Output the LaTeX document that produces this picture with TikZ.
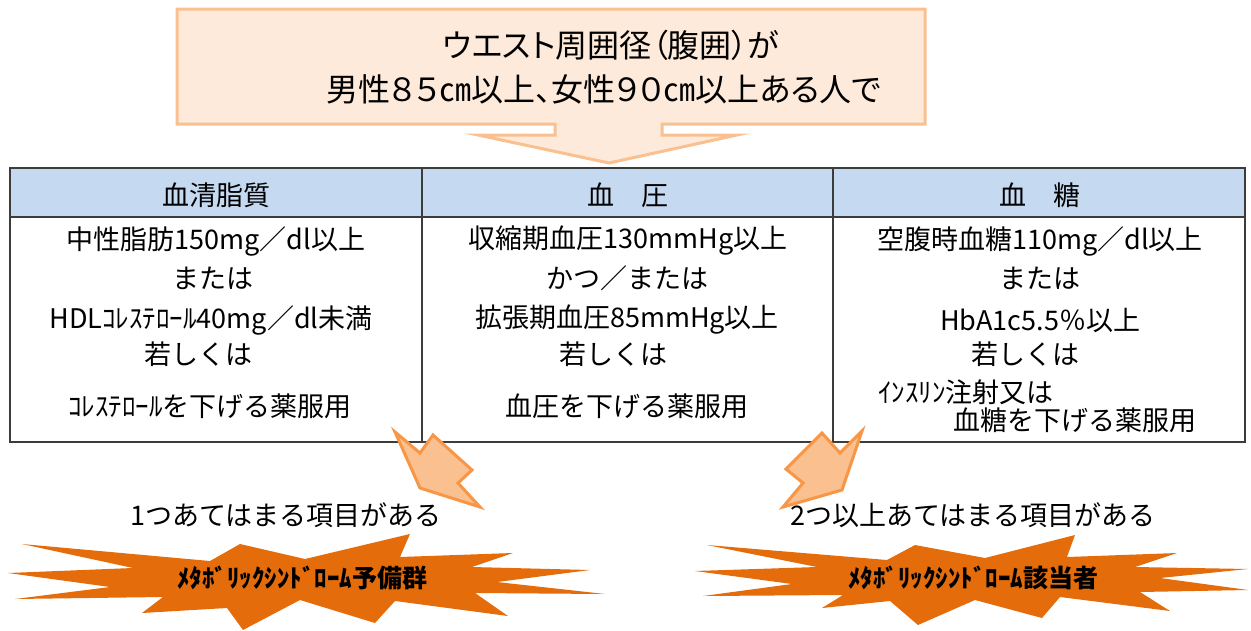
\documentclass[tikz,border=0pt]{standalone}
\usepackage{fontspec}
\newfontfamily\jp{Noto Sans CJK JP}
\newfontfamily\jpp[RawFeature=+palt]{Noto Sans CJK JP}
\definecolor{peach}{RGB}{253,234,218}
\definecolor{peachline}{RGB}{250,192,144}
\definecolor{hdr}{RGB}{197,217,241}
\definecolor{arrfill}{RGB}{250,192,144}
\definecolor{arrline}{RGB}{247,150,70}
\definecolor{burst}{RGB}{228,108,10}
\definecolor{tline}{RGB}{60,60,60}
\begin{document}
\begin{tikzpicture}[x=1pt,y=-1pt,
  toptxt/.style={font=\jpp\fontsize{32}{35}\selectfont, inner sep=0pt},
  hdrtxt/.style={font=\jp\fontsize{27}{30}\selectfont, inner sep=0pt},
  celltxt/.style={font=\jp\fontsize{27}{30}\selectfont, inner sep=0pt},
  lbltxt/.style={font=\jp\fontsize{27}{30}\selectfont, inner sep=0pt},
  bursttxt/.style={font=\jp\bfseries\fontsize{25}{28}\selectfont, inner sep=0pt},
  callout/.style={draw=peachline, fill=peach, line width=3pt, line join=miter},
  smallarrow/.style={draw=arrline, fill=arrfill, line width=3pt, line join=miter},
  burstshape/.style={fill=burst},
  tableline/.style={draw=tline, line width=1.8pt}]
\useasboundingbox (0,0) rectangle (1251,630);

% top callout with down arrow
\path[callout] (177,9) -- (925,9) -- (925,124) -- (662,124) -- (662,135) -- (737,135)
  -- (609,163) -- (478,135) -- (555,135) -- (555,124) -- (177,124) -- cycle;
\node[toptxt] (top1) at (611,45) {ウエスト周囲径（腹囲）が};
\node[toptxt] (top2) at (604,89) {男性８５㎝以上、女性９０㎝以上ある人で};

% table
\fill[hdr] (10,168) rectangle (1245,217);
\draw[tableline] (10,217) -- (1245,217);
\draw[tableline] (422,168) -- (422,442);
\draw[tableline] (833,168) -- (833,442);
\draw[tableline] (10,168) rectangle (1245,442);

\node[hdrtxt] (h1) at (216,195) {血清脂質};
\node[hdrtxt] (h2) at (628,195) {血　圧};
\node[hdrtxt] (h3) at (1040,195) {血　糖};

\node[celltxt] (a1) at (216,241) {中性脂肪150mg／dl以上};
\node[celltxt] (a2) at (213,278) {または};
\node[celltxt] (a3) at (211,320) {HDLｺﾚｽﾃﾛｰﾙ40mg／dl未満};
\node[celltxt] (a4) at (198,354) {若しくは};
\node[celltxt] (a5) at (210,406) {ｺﾚｽﾃﾛｰﾙを下げる薬服用};

\node[celltxt] (b1) at (628,241) {収縮期血圧130mmHg以上};
\node[celltxt] (b2) at (627,278) {かつ／または};
\node[celltxt] (b3) at (627,320) {拡張期血圧85mmHg以上};
\node[celltxt] (b4) at (613,354) {若しくは};
\node[celltxt] (b5) at (627,406) {血圧を下げる薬服用};

\node[celltxt] (c1) at (1040,241) {空腹時血糖110mg／dl以上};
\node[celltxt] (c2) at (1040,278) {または};
\node[celltxt] (c3) at (1040,320) {HbA1c5.5％以上};
\node[celltxt] (c4) at (1025,354) {若しくは};
\node[celltxt, anchor=west] (c5) at (878,392) {ｲﾝｽﾘﾝ注射又は};
\node[celltxt, anchor=west] (c6) at (953,420) {血糖を下げる薬服用};

% small arrows
\path[smallarrow] (395,432) -- (420,453) -- (433,435) -- (472,470) -- (458,483)
  -- (480,507) -- (420,488) -- cycle;
\path[smallarrow] (822,433) -- (786,469) -- (803,483) -- (783,507) -- (842,490)
  -- (862,431) -- (840,453) -- cycle;

\node[lbltxt] (l1) at (286,515) {1つあてはまる項目がある};
\node[lbltxt] (l2) at (973,515) {2つ以上あてはまる項目がある};

% bursts
\path[burstshape] (22,544) -- (210,561) -- (240,544) -- (305,559) -- (410,534)
  -- (400,557) -- (513,553) -- (472,567) -- (590,570) -- (497,582) -- (605,594)
  -- (475,593) -- (508,616) -- (395,601) -- (375,623) -- (300,600) -- (243,630)
  -- (227,608) -- (142,613) -- (163,597) -- (15,599) -- (110,587) -- (8,573)
  -- (133,568) -- cycle;
\node[bursttxt] (s1) at (302,578) {ﾒﾀﾎﾞﾘｯｸｼﾝﾄﾞﾛｰﾑ予備群};

\path[burstshape] (707,545) -- (887,560) -- (915,545) -- (985,558) -- (1075,535)
  -- (1067,557) -- (1177,553) -- (1135,567) -- (1248,569) -- (1160,578)
  -- (1248,590) -- (1140,592) -- (1170,611) -- (1060,597) -- (1042,618)
  -- (975,600) -- (918,625) -- (890,601) -- (822,608) -- (843,595) -- (703,596)
  -- (792,584) -- (695,571) -- (817,567) -- cycle;
\node[bursttxt] (s2) at (973,578) {ﾒﾀﾎﾞﾘｯｸｼﾝﾄﾞﾛｰﾑ該当者};
\end{tikzpicture}
\end{document}
